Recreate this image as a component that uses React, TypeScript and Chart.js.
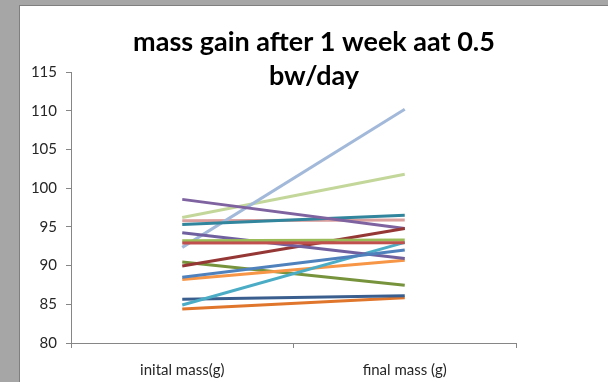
import React, { useEffect, useRef } from "react";
import { Chart, registerables } from "chart.js";

Chart.register(...registerables);

const categories = ["inital mass(g)", "final mass (g)"];
const titleLines = ["mass gain after 1 week aat 0.5", "bw/day"];

// start / end mass for each animal
const s1 = [88.5, 92.0];
const s2 = [92.9, 92.95];
const s3 = [93.2, 93.3];
const s4 = [94.25, 90.9];
const s5 = [84.9, 93.0];
const s6 = [88.2, 90.7];
const s7 = [85.65, 86.1];
const s8 = [89.95, 94.8];
const s9 = [90.45, 87.45];
const s10 = [98.55, 94.8];
const s11 = [95.3, 96.5];
const s12 = [84.4, 85.85];
const s13 = [92.35, 110.2];
const s14 = [95.8, 95.9];
const s15 = [96.2, 101.8];

const seriesValues = [s1, s2, s3, s4, s5, s6, s7, s8, s9, s10, s11, s12, s13, s14, s15];
const seriesColors = [
  "#4F81BD", "#C0504D", "#9BBB59", "#7060A0", "#4BACC6",
  "#F79646", "#3A5F8F", "#953735", "#77933C", "#7E63A0",
  "#31859C", "#E0762C", "#A3B9DA", "#DA9E9C", "#C4D79B",
];

const yMin = 80;
const yMax = 115;
const yStep = 5;

const FONT = "Lato, 'Liberation Sans', sans-serif";
const AXIS_GRAY = "#868686";

export default function App() {
  const canvasRef = useRef<HTMLCanvasElement | null>(null);

  useEffect(() => {
    const canvas = canvasRef.current;
    if (!canvas) return;
    const chart = new Chart(canvas, {
      type: "line",
      data: {
        labels: categories,
        datasets: seriesValues.map((vals, i) => ({
          label: "Series" + (i + 1),
          data: vals,
          borderColor: seriesColors[i],
          backgroundColor: seriesColors[i],
          borderWidth: 3,
          pointRadius: 0,
          tension: 0,
        })),
      },
      options: {
        animation: false,
        responsive: false,
        maintainAspectRatio: false,
        layout: { padding: { left: 0, right: 0, top: 0, bottom: -10 } },
        plugins: {
          legend: { display: false },
          tooltip: { enabled: false },
          title: {
            display: true,
            text: titleLines,
            color: "#000000",
            font: { family: FONT, size: 27, weight: "bold", lineHeight: 34 / 27 },
            padding: { top: 19, bottom: -21 },
          },
        },
        scales: {
          x: {
            type: "category",
            offset: true,
            grid: {
              display: true,
              offset: true,
              drawOnChartArea: false,
              drawTicks: true,
              tickLength: 5,
              color: AXIS_GRAY,
            },
            border: { display: true, color: AXIS_GRAY, width: 1 },
            ticks: {
              color: "#262626",
              font: { family: FONT, size: 15 },
              padding: 13,
              maxRotation: 0,
            },
          },
          y: {
            min: yMin,
            max: yMax,
            afterFit: (scale: any) => {
              scale.width = 51;
            },
            grid: {
              display: true,
              drawOnChartArea: false,
              drawTicks: true,
              tickLength: 5,
              color: AXIS_GRAY,
            },
            border: { display: true, color: AXIS_GRAY, width: 1 },
            ticks: {
              stepSize: yStep,
              color: "#262626",
              font: { family: FONT, size: 15 },
              padding: 9,
            },
          },
          // blank right-hand margin of the plot
          spacer: {
            type: "linear",
            position: "right",
            display: true,
            afterFit: (scale: any) => {
              scale.width = 92;
            },
            grid: { display: false, drawTicks: false },
            border: { display: false },
            ticks: { display: false },
          },
        },
      },
    });
    return () => chart.destroy();
  }, []);

  return (
    <div
      style={{
        position: "fixed",
        left: 0,
        top: 0,
        width: 608,
        height: 382,
        background: "#a6a6a6",
        overflow: "hidden",
      }}
    >
      <div
        style={{
          position: "absolute",
          left: 19,
          top: 5,
          width: 589,
          height: 377,
          background: "#ffffff",
          borderLeft: "1px solid #7f7f7f",
          borderTop: "1px solid #7f7f7f",
          boxSizing: "border-box",
        }}
      >
        <canvas ref={canvasRef} width={588} height={376} style={{ display: "block" }} />
      </div>
    </div>
  );
}
